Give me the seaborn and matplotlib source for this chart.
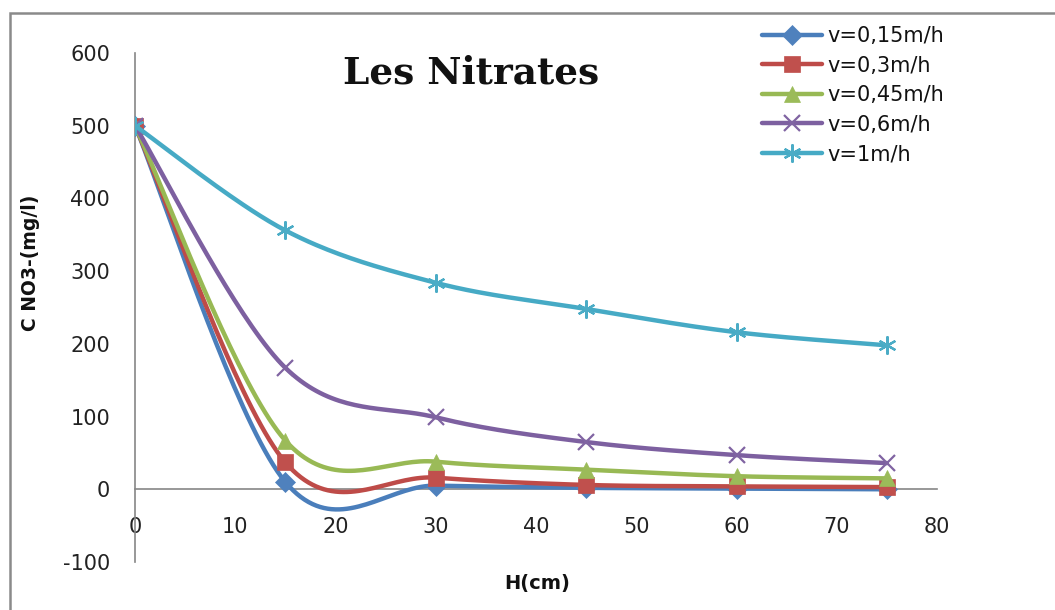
import numpy as np
import matplotlib
matplotlib.use("Agg")
import matplotlib.pyplot as plt
import seaborn as sns
from matplotlib.lines import Line2D
from matplotlib.patches import Rectangle

# ---- data ----
depth_cm = [0, 15, 30, 45, 60, 75]
series_labels = ["v=0,15m/h", "v=0,3m/h", "v=0,45m/h", "v=0,6m/h", "v=1m/h"]
v015 = [500, 10, 5, 2, 1, 0]
v03 = [500, 37, 16, 6, 4, 3]
v045 = [500, 67, 38, 27, 18, 15]
v06 = [500, 167, 99, 65, 47, 36]
v1 = [500, 356, 284, 248, 216, 198]
x_ticks = [0, 10, 20, 30, 40, 50, 60, 70, 80]
y_ticks = [-100, 0, 100, 200, 300, 400, 500, 600]

line_colors = ["#4A7EBB", "#BE4B48", "#98B954", "#7D60A0", "#46AAC5"]
marker_colors = ["#4F81BD", "#C0504D", "#9BBB59", "#8064A2", "#4BACC6"]
markers = ["D", "s", "^", "x", (6, 2, 0)]
msizes = [10, 11, 12, 12, 13]


def excel_smooth(xs, ys, n=40):
    """Bezier smoothing as Excel draws 'smoothed lines' (Catmull-Rom style)."""
    P = np.column_stack([xs, ys]).astype(float)
    pts = []
    m = len(P)
    for i in range(m - 1):
        p0 = P[i - 1] if i > 0 else P[i]
        p1 = P[i]
        p2 = P[i + 1]
        p3 = P[i + 2] if i + 2 < m else P[i + 1]
        c1 = p1 + (p2 - p0) / 6.0
        c2 = p2 - (p3 - p1) / 6.0
        t = np.linspace(0, 1, n)[:, None]
        seg = ((1 - t) ** 3) * p1 + 3 * ((1 - t) ** 2) * t * c1 + 3 * (1 - t) * t ** 2 * c2 + t ** 3 * p2
        if i > 0:
            seg = seg[1:]
        pts.append(seg)
    pts = np.vstack(pts)
    return pts[:, 0], pts[:, 1]


sns.set_style("white")
plt.rcParams["font.family"] = ["DejaVu Sans"]

fig = plt.figure(figsize=(10.55, 6.1), dpi=100)
W, H = 1055, 610
ax = fig.add_axes([135 / W, 1 - 562 / H, (937 - 135) / W, (562 - 53) / H])

all_series = [v015, v03, v045, v06, v1]
handles = []
for k, (vals, lab) in enumerate(zip(all_series, series_labels)):
    sx, sy = excel_smooth(depth_cm, vals)
    sns.lineplot(x=sx, y=sy, ax=ax, color=line_colors[k], lw=3.2, sort=False,
                 estimator=None, zorder=3 + 2 * k, legend=False)
    mk = markers[k]
    open_marker = mk == "x" or isinstance(mk, tuple)
    ax.plot(depth_cm, vals, linestyle="none", marker=mk, markersize=msizes[k],
            markerfacecolor=marker_colors[k], markeredgecolor=marker_colors[k],
            markeredgewidth=1.6 if open_marker else 0.5, zorder=4 + 2 * k)
    handles.append(Line2D([], [], color=line_colors[k], lw=3.2, marker=mk,
                          markersize=msizes[k], markerfacecolor=marker_colors[k],
                          markeredgecolor=marker_colors[k],
                          markeredgewidth=1.6 if open_marker else 0.5))

ax.set_xlim(0, 80)
ax.set_ylim(-100, 600)
ax.set_xticks(x_ticks)
ax.set_yticks(y_ticks)
ax.set_xticklabels([str(t) for t in x_ticks])
ax.set_yticklabels([str(t) for t in y_ticks])
ax.set_xlabel("")
ax.set_ylabel("")
ax.grid(False)
ax.set_facecolor("none")

for s in ["top", "right"]:
    ax.spines[s].set_visible(False)
ax.spines["bottom"].set_position(("data", 0))
for s in ["left", "bottom"]:
    ax.spines[s].set_color("#868686")
    ax.spines[s].set_linewidth(1.2)
    ax.spines[s].set_zorder(1)

ax.tick_params(axis="both", which="major", direction="out", length=7, width=1.2,
               color="#868686", labelsize=15, labelcolor="#222222")
ax.tick_params(axis="x", pad=13)
ax.tick_params(axis="y", pad=11)

# Title and axis labels
fig.text(471 / W, 1 - 83 / H, "Les Nitrates", ha="center", va="baseline",
         fontsize=27, fontweight="bold", family="DejaVu Serif", color="#111111")
fig.text(31 / W, 1 - 263 / H, "C NO3-(mg/l)", ha="center", va="center",
         rotation=90, fontsize=13.5, fontweight="bold", color="#111111")
fig.text(537 / W, 1 - 584 / H, "H(cm)", ha="center", va="center",
         fontsize=14, fontweight="bold", color="#111111")

leg = fig.legend(handles, series_labels, loc="upper left",
                 bbox_to_anchor=(762 / W, 1 - 26 / H), frameon=False,
                 fontsize=15, handlelength=2.9, handletextpad=0.25,
                 labelspacing=0.46, borderpad=0, borderaxespad=0)
for t in leg.get_texts():
    t.set_color("#111111")

# outer chart border
fig.patches.append(Rectangle((10 / W, -0.05), 1.1, 1 - 13 / H + 0.05,
                             transform=fig.transFigure, fill=False,
                             edgecolor="#8A8A8A", lw=1.8, zorder=0))

fig.savefig("out.png", dpi=100)
